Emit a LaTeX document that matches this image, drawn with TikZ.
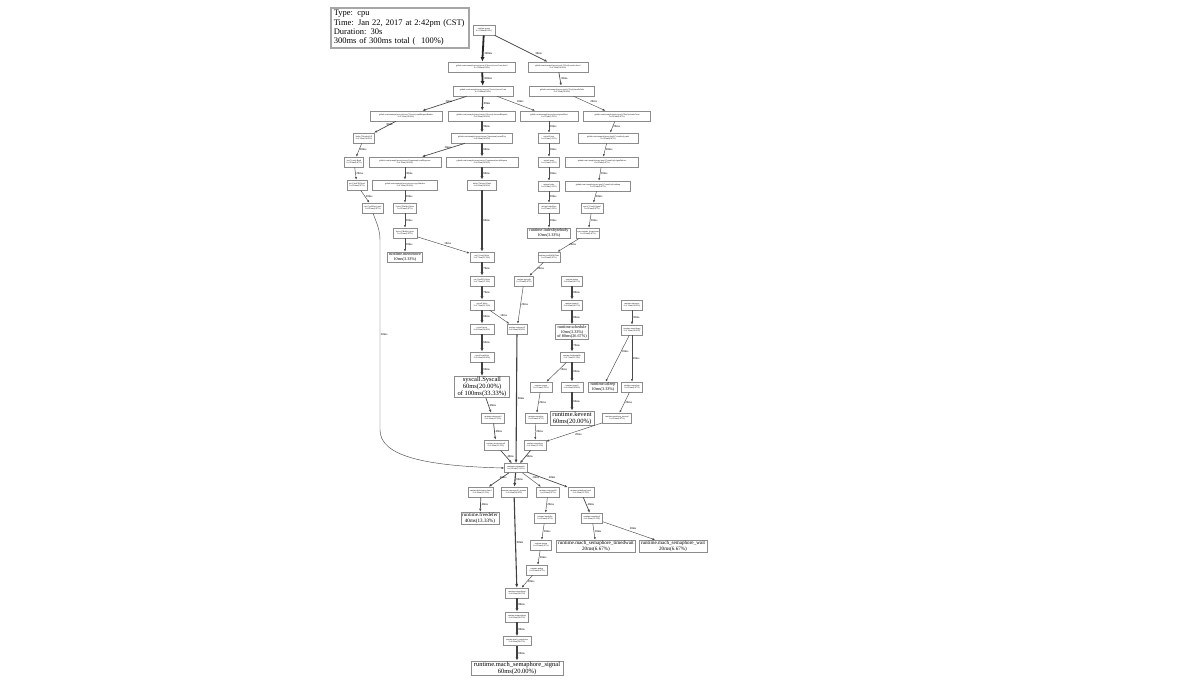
\documentclass[tikz,border=0pt]{standalone}
\usepackage{fontspec}
\setmainfont{Liberation Serif}
\usetikzlibrary{arrows.meta}

\tikzset{
  fn/.style={draw=black!45, line width=0.6pt, fill=white, inner sep=0.8pt,
    minimum height=10pt, align=center, font=\fontsize{2.1}{2.6}\selectfont},
  mid/.style={fn, font=\fontsize{4.2}{4.6}\selectfont},
  lg/.style={fn, font=\fontsize{5.1}{5.6}\selectfont},
  big/.style={fn, inner sep=0.6pt, font=\fontsize{6.5}{7.1}\selectfont},
  legend/.style={draw=black!35, line width=1.6pt, fill=white, align=left,
    inner xsep=3pt, inner ysep=2.5pt, text width=132pt,
    font=\fontsize{8.5}{9.2}\selectfont},
  wd/.style={minimum width=#1pt},
  lbl/.style={font=\fontsize{3}{3}\selectfont, inner sep=0.7pt},
  e1/.style={draw=black!70, line width=0.45pt, -{Latex[length=2.6pt,width=2.1pt]}},
  e2/.style={draw=black!70, line width=0.7pt, -{Latex[length=3pt,width=2.5pt]}},
  e3/.style={draw=black!75, line width=1.1pt, -{Latex[length=3.6pt,width=3.1pt]}},
  e4/.style={draw=black!85, line width=1.8pt, -{Latex[length=4.6pt,width=4.2pt]}}
}

\begin{document}
\begin{tikzpicture}[x=1pt,y=-1pt]
\fill[white] (0,0) rectangle (1184,686);
\useasboundingbox (0,0) rectangle (1184,686);

\node[legend, anchor=north west] (info) at (330,7)
  {Type: cpu\\Time: Jan 22, 2017 at 2:42pm (CST)\\Duration: 30s\\300ms of 300ms total (\ \ 100\%)};

% functions
\node[fn, wd=22] (goexit) at (484,30) {runtime.goexit\\0 of 300ms(100\%)};
\node[fn, wd=67] (serve) at (482,67) {github.com/example/proxy/server.(*Server).serveConn.func1\\0 of 300ms(100\%)};
\node[fn, wd=60] (conn) at (483,91) {github.com/example/proxy/server.(*Server).serveConn\\0 of 300ms(100\%)};
\node[fn, wd=60] (worker) at (558,67) {github.com/example/proxy/pool.(*Pool).worker.func1\\0 of 30ms(10.00\%)};
\node[fn, wd=65] (task) at (562,91) {github.com/example/proxy/pool.(*Pool).handleTask\\0 of 30ms(10.00\%)};
\node[fn, wd=72] (readhdr) at (406,116) {github.com/example/proxy/server.(*Server).readRequestHeader\\0 of 30ms(10.00\%)};
\node[fn, wd=67] (forward) at (482,116) {github.com/example/proxy/server.(*Server).forwardRequest\\0 of 90ms(30.00\%)};
\node[fn, wd=58] (parsehost) at (549,116) {github.com/example/proxy/server.parseHost\\0 of 10ms(3.33\%)};
\node[fn, wd=67] (release) at (617,116) {github.com/example/proxy/pool.(*Pool).releaseConn\\0 of 20ms(6.67\%)};
\node[fn, wd=21] (bufread) at (364,138) {bufio.(*Reader).fill\\0 of 30ms(10.00\%)};
\node[fn, wd=61] (roundtrip) at (482,138) {github.com/example/proxy/server.(*upstream).roundTrip\\0 of 90ms(30.00\%)};
\node[fn, wd=21] (urlparse) at (549,138) {net/url.Parse\\0 of 10ms(3.33\%)};
\node[fn, wd=60] (push) at (608,138) {github.com/example/proxy/pool.(*connList).push\\0 of 20ms(6.67\%)};
\node[fn, wd=19] (connread) at (354,162) {net.(*conn).Read\\0 of 20ms(6.67\%)};
\node[fn, wd=72] (readresp) at (405,162) {github.com/example/proxy/server.(*upstream).readResponse\\0 of 30ms(10.00\%)};
\node[fn, wd=72] (writereq) at (482,162) {github.com/example/proxy/server.(*upstream).writeRequest\\0 of 60ms(20.00\%)};
\node[fn, wd=21] (urlparse2) at (549,162) {net/url.parse\\0 of 10ms(3.33\%)};
\node[fn, wd=73] (signalw) at (602,162) {github.com/example/proxy/pool.(*connList).signalWaiter\\0 of 20ms(6.67\%)};
\node[fn, wd=20] (fdread) at (357,185) {net.(*netFD).Read\\0 of 20ms(6.67\%)};
\node[fn, wd=65] (copyhdr) at (405,185) {github.com/example/proxy/server.copyHeaders\\0 of 30ms(10.00\%)};
\node[fn, wd=29] (flush) at (482,185) {bufio.(*Writer).Flush\\0 of 60ms(20.00\%)};
\node[fn, wd=21] (index) at (549,186) {strings.Index\\0 of 10ms(3.33\%)};
\node[fn, wd=65] (wakeup) at (598,186) {github.com/example/proxy/pool.(*connList).wakeup\\0 of 20ms(6.67\%)};
\node[fn, wd=21] (pollwait) at (373,208) {net.(*pollDesc).wait\\0 of 20ms(6.67\%)};
\node[fn, wd=23] (bufwrite) at (405,208) {bytes.(*Buffer).Write\\0 of 20ms(6.67\%)};
\node[fn, wd=21] (indexbyte) at (549,208) {strings.IndexByte\\0 of 10ms(3.33\%)};
\node[fn, wd=22] (condsig) at (592,208) {sync.(*Cond).Signal\\0 of 20ms(6.67\%)};
\node[fn, wd=24] (bufgrow) at (405,233) {bytes.(*Buffer).grow\\0 of 20ms(6.67\%)};
\node[mid, wd=43] (ibbody) at (549,233) {runtime.indexbytebody\\10ms(3.33\%)};
\node[fn, wd=22] (semrel) at (588,233) {sync.runtime\_Semrelease\\0 of 20ms(6.67\%)};
\node[mid, wd=35] (memmove) at (405,257) {runtime.memmove\\10ms(3.33\%)};
\node[fn, wd=24] (cwrite) at (482,257) {net.(*conn).Write\\0 of 70ms(23.33\%)};
\node[fn, wd=21] (ready) at (549,257) {runtime.readyWithTime\\0 of 20ms(6.67\%)};
\node[fn, wd=24] (fdwrite) at (482,281) {net.(*netFD).Write\\0 of 70ms(23.33\%)};
\node[fn, wd=19] (goready) at (524,281) {runtime.goready\\0 of 20ms(6.67\%)};
\node[fn, wd=21] (mstart) at (572,281) {runtime.mstart\\0 of 80ms(26.67\%)};
\node[fn, wd=24] (swrite) at (482,305) {syscall.Write\\0 of 70ms(23.33\%)};
\node[fn, wd=21] (mstart1) at (572,305) {runtime.mstart1\\0 of 80ms(26.67\%)};
\node[fn, wd=21] (timerproc) at (632,305) {runtime.timerproc\\0 of 30ms(10.00\%)};
\node[fn, wd=24] (swrite2) at (482,329) {syscall.write\\0 of 60ms(20.00\%)};
\node[fn, wd=20] (exitsys) at (517,329) {runtime.exitsyscall\\0 of 60ms(20.00\%)};
\node[mid, wd=33] (schedule) at (572,332) {runtime.schedule\\10ms(3.33\%)\\of 80ms(26.67\%)};
\node[fn, wd=21] (tsleepg) at (632,330) {runtime.notetsleepg\\0 of 30ms(10.00\%)};
\node[fn, wd=24] (rawsys) at (482,357) {syscall.rawWrite\\0 of 60ms(20.00\%)};
\node[fn, wd=24] (findrun) at (572,357) {runtime.findrunnable\\0 of 70ms(23.33\%)};
\node[big, wd=55] (syscall) at (482,387) {syscall.Syscall\\60ms(20.00\%)\\of 100ms(33.33\%)};
\node[fn, wd=22] (stopm) at (541,387) {runtime.stopm\\0 of 10ms(3.33\%)};
\node[fn, wd=22] (netpoll) at (572,387) {runtime.netpoll\\0 of 60ms(20.00\%)};
\node[mid, wd=29] (usleep) at (603,387) {runtime.usleep\\10ms(3.33\%)};
\node[fn, wd=21] (tsleep) at (632,387) {runtime.notetsleep\\0 of 20ms(6.67\%)};
\node[fn, wd=23] (entersys) at (493,418) {runtime.entersyscall\\0 of 40ms(13.33\%)};
\node[fn, wd=22] (notesleep) at (536,418) {runtime.notesleep\\0 of 20ms(6.67\%)};
\node[big, wd=44] (kevent) at (572,418) {runtime.kevent\\60ms(20.00\%)};
\node[fn, wd=29] (tsleepint) at (617,418) {runtime.notetsleep\_internal\\0 of 20ms(6.67\%)};
\node[fn, wd=24] (reenter) at (496,445) {runtime.reentersyscall\\0 of 40ms(13.33\%)};
\node[fn, wd=22] (semasleep) at (535,445) {runtime.semasleep\\0 of 40ms(13.33\%)};
\node[fn, wd=23, minimum height=9pt] (sysstack) at (516,468) {runtime.systemstack\\0 of 160ms(53.33\%)};
\node[fn, wd=25] (deferret) at (481,492) {runtime.deferreturn.func1\\0 of 40ms(13.33\%)};
\node[fn, wd=25] (sysmonent) at (514,492) {runtime.entersyscall\_sysmon\\0 of 60ms(20.00\%)};
\node[fn, wd=23] (exitsys0) at (548,492) {runtime.exitsyscall0\\0 of 20ms(6.67\%)};
\node[fn, wd=26] (semafunc) at (581,492) {runtime.semasleep.func1\\0 of 40ms(13.33\%)};
\node[lg, wd=38] (freedefer) at (480,518) {runtime.freedefer\\40ms(13.33\%)};
\node[fn, wd=21] (handoffp) at (545,518) {runtime.handoffp\\0 of 20ms(6.67\%)};
\node[fn, wd=21] (semasleep1) at (592,518) {runtime.semasleep1\\0 of 40ms(13.33\%)};
\node[fn, wd=21] (startm) at (541,545) {runtime.startm\\0 of 20ms(6.67\%)};
\node[lg, wd=79] (timedwait) at (596,546) {runtime.mach\_semaphore\_timedwait\\20ms(6.67\%)};
\node[lg, wd=68] (semwait) at (673,546) {runtime.mach\_semaphore\_wait\\20ms(6.67\%)};
\node[fn, wd=21] (wakep) at (537,570) {runtime.wakep\\0 of 20ms(6.67\%)};
\node[fn, wd=23] (notewake) at (517,593) {runtime.notewakeup\\0 of 80ms(26.67\%)};
\node[fn, wd=23] (semawake) at (517,617) {runtime.semawakeup\\0 of 80ms(26.67\%)};
\node[fn, wd=28, minimum height=9pt] (semrelease) at (517,641) {runtime.mach\_semrelease\\0 of 80ms(26.67\%)};
\node[big, wd=92] (semsignal) at (517,668) {runtime.mach\_semaphore\_signal\\60ms(20.00\%)};

% calls
\draw[e4] (goexit) -- node[lbl,right,pos=0.7] {300ms} (serve);
\draw[e2] (goexit) -- node[lbl,above right,pos=0.75] {30ms} (worker);
\draw[e4] (serve) -- node[lbl,right] {300ms} (conn);
\draw[e2] (worker) -- node[lbl,right] {30ms} (task);
\draw[e2] (conn) -- node[lbl,above right] {30ms} (readhdr);
\draw[e3] (conn) -- node[lbl,right] {90ms} (forward);
\draw[e1] (conn) -- node[lbl,above right] {10ms} (parsehost);
\draw[e1] (task) -- node[lbl,above right] {20ms} (release);
\draw[e2] (readhdr) -- node[lbl,above right] {30ms} (bufread);
\draw[e3] (forward) -- node[lbl,right] {90ms} (roundtrip);
\draw[e1] (parsehost) -- node[lbl,right] {10ms} (urlparse);
\draw[e1] (release) -- node[lbl,right] {20ms} (push);
\draw[e1] (bufread) -- node[lbl,right] {20ms} (connread);
\draw[e2] (roundtrip) -- node[lbl,above right] {30ms} (readresp);
\draw[e3] (roundtrip) -- node[lbl,right] {60ms} (writereq);
\draw[e1] (urlparse) -- node[lbl,right] {10ms} (urlparse2);
\draw[e1] (push) -- node[lbl,right] {20ms} (signalw);
\draw[e1] (connread) -- node[lbl,right] {20ms} (fdread);
\draw[e2] (readresp) -- node[lbl,right] {30ms} (copyhdr);
\draw[e3] (writereq) -- node[lbl,right] {60ms} (flush);
\draw[e1] (urlparse2) -- node[lbl,right] {10ms} (index);
\draw[e1] (signalw) -- node[lbl,right] {20ms} (wakeup);
\draw[e1] (fdread) -- node[lbl,right] {20ms} (pollwait);
\draw[e1] (copyhdr) -- node[lbl,right] {20ms} (bufwrite);
\draw[e1] (index) -- node[lbl,right] {10ms} (indexbyte);
\draw[e1] (wakeup) -- node[lbl,right] {20ms} (condsig);
\draw[e1] (bufwrite) -- node[lbl,right] {20ms} (bufgrow);
\draw[e1] (indexbyte) -- node[lbl,right] {10ms} (ibbody);
\draw[e1] (condsig) -- node[lbl,right] {20ms} (semrel);
\draw[e1] (bufgrow) -- node[lbl,right] {10ms} (memmove);
\draw[e1] (bufgrow) -- node[lbl,above right] {10ms} (cwrite);
\draw[e3] (flush) -- node[lbl,right] {60ms} (cwrite);
\draw[e1] (semrel) -- node[lbl,right] {20ms} (ready);
\draw[e3] (cwrite) -- node[lbl,right] {70ms} (fdwrite);
\draw[e1] (ready) -- node[lbl,right] {20ms} (goready);
\draw[e3] (mstart) -- node[lbl,right] {80ms} (mstart1);
\draw[e3] (fdwrite) -- node[lbl,right] {70ms} (swrite);
\draw[e1] (goready) -- node[lbl,right] {20ms} (exitsys);
\draw[e3] (mstart1) -- node[lbl,right] {80ms} (schedule);
\draw[e2] (timerproc) -- node[lbl,right] {30ms} (tsleepg);
\draw[e3] (swrite) -- node[lbl,right] {60ms} (swrite2);
\draw[e1] (swrite) -- node[lbl,above right] {10ms} (exitsys);
\draw[e3] (swrite2) -- node[lbl,right] {60ms} (rawsys);
\draw[e3] (schedule) -- node[lbl,right] {70ms} (findrun);
\draw[e3] (rawsys) -- node[lbl,right] {60ms} (syscall);
\draw[e1] (findrun) -- node[lbl,right,pos=0.35] {10ms} (stopm);
\draw[e3] (findrun) -- node[lbl,right] {60ms} (netpoll);
\draw[e1] (tsleepg) -- node[lbl,right,pos=0.35] {10ms} (usleep);
\draw[e1] (tsleepg) -- node[lbl,right] {20ms} (tsleep);
\draw[e2] (syscall) -- node[lbl,right] {40ms} (entersys);
\draw[e1] (stopm) -- node[lbl,right] {20ms} (notesleep);
\draw[e3] (netpoll) -- node[lbl,right] {60ms} (kevent);
\draw[e1] (tsleep) -- node[lbl,right] {20ms} (tsleepint);
\draw[e2] (entersys) -- node[lbl,right] {40ms} (reenter);
\draw[e1] (notesleep) -- node[lbl,right] {20ms} (semasleep);
\draw[e1] (tsleepint) -- node[lbl,below right] {20ms} (semasleep);
\draw[e2] (reenter) -- node[lbl,right] {40ms} (sysstack);
\draw[e2] (semasleep) -- node[lbl,right] {40ms} (sysstack);
\draw[e3] (exitsys) -- node[lbl,right] {60ms} (sysstack);
\coordinate (dropTop) at (380,240);
\coordinate (dropBot) at (380,430);
\draw[e1] (pollwait.south) .. controls (377,224) and (380,230) .. (dropTop)
  -- node[lbl,right] {20ms} (dropBot)
  .. controls (380,456) and (425,466) .. (sysstack.west);
\draw[e2] (sysstack) -- node[lbl,above right] {40ms} (deferret);
\draw[e3] (sysstack) -- node[lbl,right] {60ms} (sysmonent);
\draw[e1] (sysstack) -- node[lbl,above right] {20ms} (exitsys0);
\draw[e2] (sysstack) -- node[lbl,above right] {40ms} (semafunc);
\draw[e2] (deferret) -- node[lbl,right] {40ms} (freedefer);
\draw[e3] (sysmonent) -- node[lbl,right] {60ms} (notewake);
\draw[e1] (exitsys0) -- node[lbl,right] {20ms} (handoffp);
\draw[e2] (semafunc) -- node[lbl,right] {40ms} (semasleep1);
\draw[e1] (handoffp) -- node[lbl,right] {20ms} (startm);
\draw[e1] (semasleep1) -- node[lbl,right] {20ms} (timedwait);
\draw[e1] (semasleep1) -- node[lbl,above right] {20ms} (semwait);
\draw[e1] (startm) -- node[lbl,right] {20ms} (wakep);
\draw[e1] (wakep) -- node[lbl,right] {20ms} (notewake);
\draw[e3] (notewake) -- node[lbl,right] {80ms} (semawake);
\draw[e3] (semawake) -- node[lbl,right] {80ms} (semrelease);
\draw[e3] (semrelease) -- node[lbl,right] {60ms} (semsignal);
\end{tikzpicture}
\end{document}
